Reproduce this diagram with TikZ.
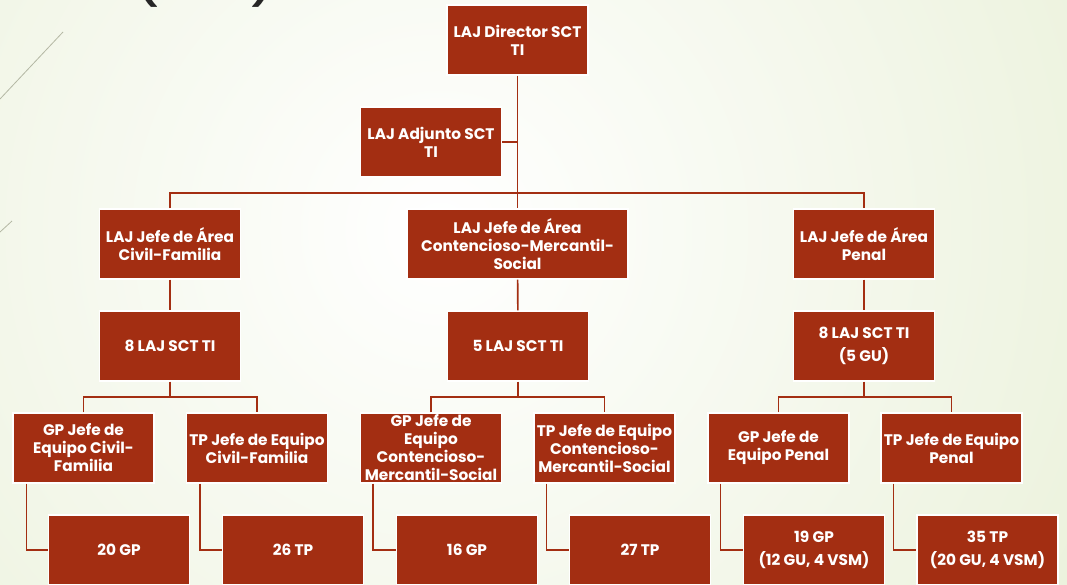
\documentclass[tikz,border=0pt]{standalone}
\usepackage{fontspec}
\setmainfont{Poppins}
\definecolor{Boxcol}{HTML}{A32E12}
\definecolor{Bgcol}{HTML}{DAE6BD}
\definecolor{Titlecol}{HTML}{262626}
\definecolor{Facetcol}{HTML}{B4B8A4}
\usetikzlibrary{positioning}
\tikzset{
    unit/.style={rectangle, fill=Boxcol, draw=white, line width=1pt, text=white,
        font=\fontsize{11.5}{13.5}\selectfont\bfseries, align=center,
        minimum width=105.75pt, minimum height=52.5pt, inner sep=0pt},
    link/.style={draw=Boxcol, line width=1.2pt}
}

\begin{document}
\begin{tikzpicture}[x=0.75pt, y=-0.75pt]
    % Slide background (pixel units, y downwards)
    \useasboundingbox (0,0) rectangle (1067,585);
    \begin{scope}
        \clip (0,0) rectangle (1067,585);
        \shade[inner color=white, outer color=Bgcol] (440,230) circle (1050pt);
        \draw[Facetcol, line width=0.6pt] (0,99) -- (63,32);
        \draw[Facetcol, line width=0.6pt] (0,232) -- (12,221);
        % Cut-off slide title
        \node[font=\fontsize{48}{48}\selectfont, text=Titlecol, anchor=south, inner sep=0pt] (title) at (205,8) {(\hspace{66pt})};
    \end{scope}

    % Direction
    \node[unit] (dir) at (517.5,40) {LAJ Director SCT\\TI};
    \node[unit] (adj) at (431,142) {LAJ Adjunto SCT\\TI};

    % Areas
    \node[unit] (civ) at (170,244) {LAJ Jefe de Área\\Civil-Familia};
    \node[unit, minimum width=165.75pt] (con) at (517.5,244) {LAJ Jefe de Área\\Contencioso-Mercantil-\\Social};
    \node[unit] (pen) at (864,244) {LAJ Jefe de Área\\Penal};

    % LAJ per area
    \node[unit] (lajc) at (170,346) {8 LAJ SCT TI};
    \node[unit] (lajm) at (518,346) {5 LAJ SCT TI};
    \node[unit] (lajp) at (864,346) {8 LAJ SCT TI\\[4pt](5 GU)};

    % Team leads
    \node[unit] (gpc) at (83.5,448) {GP Jefe de\\Equipo Civil-\\Familia};
    \node[unit] (tpc) at (257,448) {TP Jefe de Equipo\\Civil-Familia};
    \node[unit] (gpm) at (431,448) {GP Jefe de\\Equipo\\Contencioso-\\Mercantil-Social};
    \node[unit] (tpm) at (604.5,448) {TP Jefe de Equipo\\Contencioso-\\Mercantil-Social};
    \node[unit] (gpp) at (778.5,448) {GP Jefe de\\Equipo Penal};
    \node[unit] (tpp) at (951.5,448) {TP Jefe de Equipo\\Penal};

    % Staff
    \node[unit] (ngpc) at (119,550) {20 GP};
    \node[unit] (ntpc) at (293,550) {26 TP};
    \node[unit] (ngpm) at (467,550) {16 GP};
    \node[unit] (ntpm) at (640,550) {27 TP};
    \node[unit] (ngpp) at (814,550) {19 GP\\[4pt](12 GU, 4 VSM)};
    \node[unit] (ntpp) at (987.5,550) {35 TP\\[4pt](20 GU, 4 VSM)};

    % Bars
    \coordinate (topbar) at (517.5,193);
    \coordinate (civbar) at (170,397);
    \coordinate (conbar) at (518,397);
    \coordinate (penbar) at (864,397);

    % Connectors
    \draw[link] (dir) -- (con);
    \draw[link] (adj.east) -- (adj.east -| dir.south);
    \draw[link] (civ.north) |- (topbar) -| (pen.north);
    \draw[link] (civ) -- (lajc);
    \draw[link] (con) -- (lajm);
    \draw[link] (pen) -- (lajp);
    \draw[link] (lajc) -- (civbar);
    \draw[link] (lajm) -- (conbar);
    \draw[link] (lajp) -- (penbar);
    \draw[link] (gpc.north) |- (civbar) -| (tpc.north);
    \draw[link] (gpm.north) |- (conbar) -| (tpm.north);
    \draw[link] (gpp.north) |- (penbar) -| (tpp.north);
    \draw[link] ([xshift=10.5pt]gpc.south west) |- (ngpc.west);
    \draw[link] ([xshift=10.5pt]tpc.south west) |- (ntpc.west);
    \draw[link] ([xshift=10pt]gpm.south west) |- (ngpm.west);
    \draw[link] ([xshift=10pt]tpm.south west) |- (ntpm.west);
    \draw[link] ([xshift=10pt]gpp.south west) |- (ngpp.west);
    \draw[link] ([xshift=10pt]tpp.south west) |- (ntpp.west);
\end{tikzpicture}
\end{document}
